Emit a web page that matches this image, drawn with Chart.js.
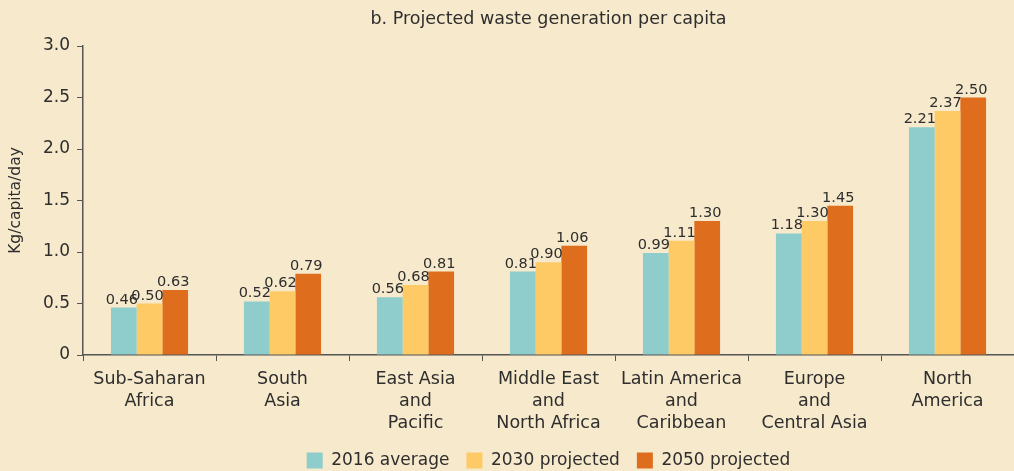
<!DOCTYPE html>
<html lang="en">
<head>
  <meta charset="UTF-8" />
  <title>Projected waste generation per capita</title>
  <script src="https://cdn.jsdelivr.net/npm/chart.js"></script>
  <style>
    html, body { margin: 0; padding: 0; background: #f7e9cb; }
    #wrap { width: 1014px; height: 471px; position: relative; }
  </style>
</head>
<body>
  <div id="wrap"><canvas id="wasteChart"></canvas></div>
  <script>
    // data
    const regions = [
      ['Sub-Saharan', 'Africa'],
      ['South', 'Asia'],
      ['East Asia', 'and', 'Pacific'],
      ['Middle East', 'and', 'North Africa'],
      ['Latin America', 'and', 'Caribbean'],
      ['Europe', 'and', 'Central Asia'],
      ['North', 'America']
    ];
    const avg2016 = [0.46, 0.52, 0.56, 0.81, 0.99, 1.18, 2.21];
    const proj2030 = [0.50, 0.62, 0.68, 0.90, 1.11, 1.30, 2.37];
    const proj2050 = [0.63, 0.79, 0.81, 1.06, 1.30, 1.45, 2.50];
    const yTicks = [0, 0.5, 1.0, 1.5, 2.0, 2.5, 3.0];

    const fontFam = '"DejaVu Sans", sans-serif';
    const textCol = '#2e2e2e';
    const axisCol = '#555555';

    // draws the value above each bar
    const valueLabels = {
      id: 'valueLabels',
      afterDatasetsDraw(chart) {
        const ctx = chart.ctx;
        ctx.save();
        ctx.font = '14.5px ' + fontFam;
        ctx.fillStyle = textCol;
        ctx.textAlign = 'center';
        ctx.textBaseline = 'alphabetic';
        chart.data.datasets.forEach((ds, i) => {
          chart.getDatasetMeta(i).data.forEach((bar, j) => {
            ctx.fillText(ds.data[j].toFixed(2), bar.x - 2, bar.y - 4);
          });
        });
        ctx.restore();
      }
    };

    new Chart(document.getElementById('wasteChart'), {
      type: 'bar',
      data: {
        labels: regions,
        datasets: [
          { label: '2016 average', data: avg2016, backgroundColor: '#8ecdcb' },
          { label: '2030 projected', data: proj2030, backgroundColor: '#fdca66' },
          { label: '2050 projected', data: proj2050, backgroundColor: '#de6e1e' }
        ]
      },
      options: {
        responsive: true,
        maintainAspectRatio: false,
        animation: false,
        layout: { padding: { top: 0, right: 0, bottom: -8, left: 0 } },
        datasets: { bar: { categoryPercentage: 0.58, barPercentage: 1.0 } },
        plugins: {
          title: {
            display: true,
            fullSize: false,
            text: 'b. Projected waste generation per capita',
            color: textCol,
            font: { family: fontFam, size: 17.5, weight: 'normal' },
            padding: { top: 9, bottom: 16 }
          },
          legend: {
            position: 'bottom',
            fullSize: false,
            labels: {
              color: textCol,
              font: { family: fontFam, size: 17 },
              boxWidth: 16,
              boxHeight: 16,
              padding: 17
            }
          },
          tooltip: { enabled: false }
        },
        scales: {
          x: {
            grid: { display: true, offset: true, drawOnChartArea: false, drawTicks: true, tickLength: 6, color: axisCol },
            border: { color: axisCol, width: 1.5 },
            ticks: { color: textCol, font: { family: fontFam, size: 17.5, lineHeight: 1.26 }, maxRotation: 0, padding: 7 },
            afterFit(scale) { scale.height = 80; }
          },
          y: {
            min: 0,
            max: 3,
            afterBuildTicks(scale) { scale.ticks = yTicks.map(v => ({ value: v })); },
            grid: { drawOnChartArea: false, drawTicks: true, tickLength: 6, color: axisCol },
            border: { color: axisCol, width: 1.5 },
            ticks: {
              color: textCol,
              font: { family: fontFam, size: 17 },
              padding: 7,
              callback: v => v === 0 ? '0' : v.toFixed(1)
            },
            title: {
              display: true,
              text: 'Kg/capita/day',
              color: textCol,
              font: { family: fontFam, size: 15.5 },
              padding: { top: 7, bottom: 0 }
            },
            afterFit(scale) { scale.width = 83; }
          }
        }
      },
      plugins: [valueLabels]
    });
  </script>
</body>
</html>
